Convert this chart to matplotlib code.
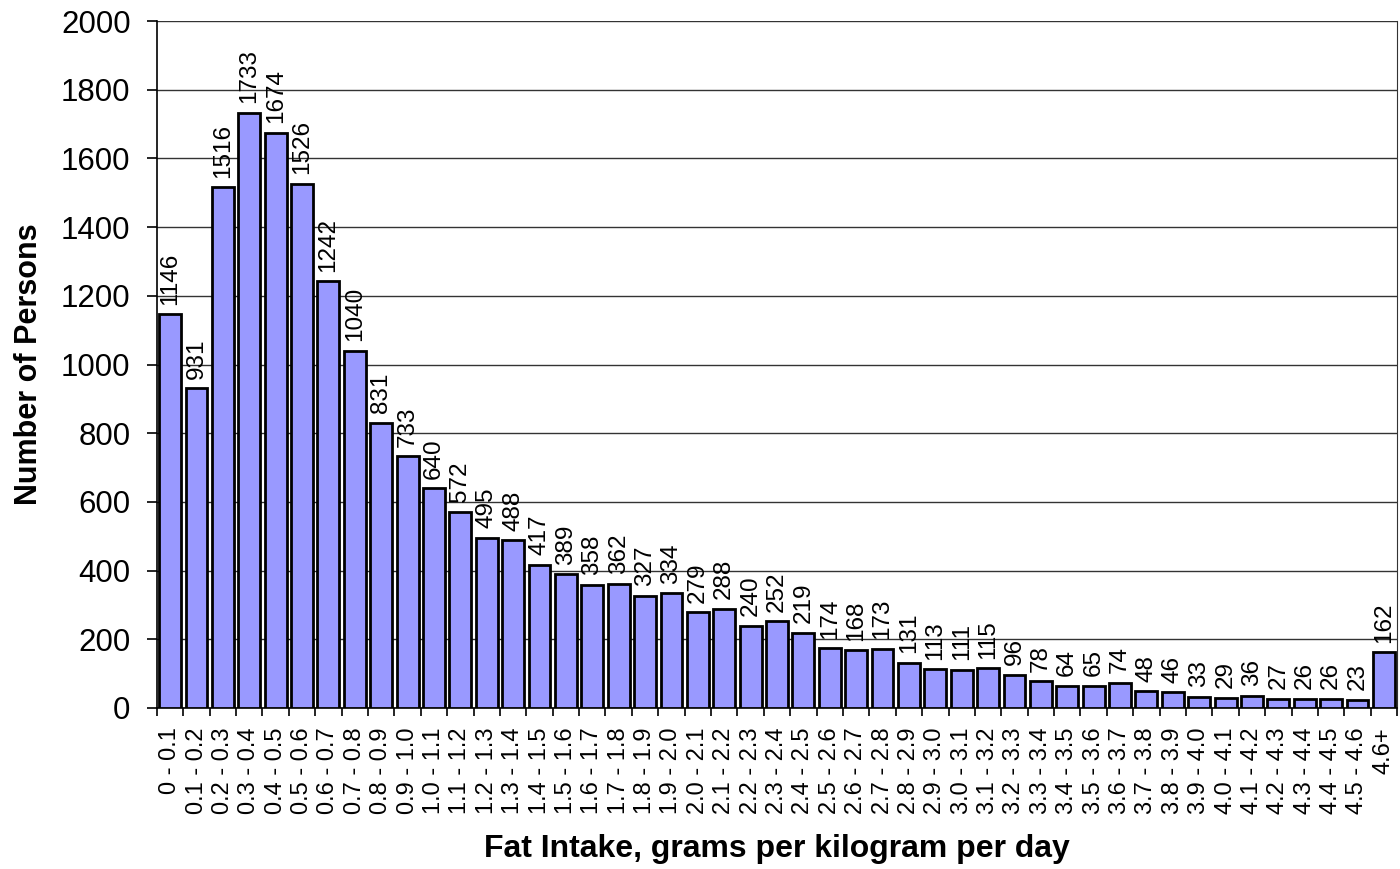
import matplotlib
matplotlib.use("Agg")
import matplotlib.pyplot as plt
import numpy as np

plt.rcParams['font.family'] = ['Liberation Sans', 'DejaVu Sans']

lows = [round(i * 0.1, 1) for i in range(46)]
categories = [("0" if i == 0 else f"{lows[i]:.1f}") + " - " + f"{lows[i] + 0.1:.1f}" for i in range(46)] + ["4.6+"]
counts = [1146, 931, 1516, 1733, 1674, 1526, 1242, 1040, 831, 733, 640, 572, 495, 488,
          417, 389, 358, 362, 327, 334, 279, 288, 240, 252, 219, 174, 168, 173, 131, 113,
          111, 115, 96, 78, 64, 65, 74, 48, 46, 33, 29, 36, 27, 26, 26, 23, 162]
yticks = [0, 200, 400, 600, 800, 1000, 1200, 1400, 1600, 1800, 2000]

fig = plt.figure(figsize=(14, 8.69), dpi=100)
ax = fig.add_axes([0.1121, 0.1853, 0.8858, 0.7905])

x = np.arange(len(counts))
ax.bar(x, counts, width=0.83, color='#9999FF', edgecolor='black', linewidth=2, zorder=3)
for xi, v in zip(x, counts):
    ax.text(xi, v + 28, str(v), rotation=90, ha='center', va='bottom', fontsize=17.5, zorder=4)

ax.set_xlim(-0.5, len(counts) - 0.5)
ax.set_ylim(0, 2000)
ax.set_yticks(yticks)
ax.tick_params(axis='y', labelsize=22.5, length=7, width=1.2, direction='out', pad=12)
ax.yaxis.grid(True, color='#333333', linewidth=1, zorder=0)
ax.set_xticks(x)
ax.set_xticklabels(categories, rotation=90, fontsize=17)
ax.tick_params(axis='x', length=0, pad=14)
# tick marks between categories
ax.set_xticks(np.arange(-0.5, len(counts)), minor=True)
ax.tick_params(axis='x', which='minor', length=6, width=1.2, direction='out')

ax.spines['top'].set_visible(False)
ax.spines['right'].set_color('#333333')
ax.spines['left'].set_linewidth(1.2)
ax.spines['bottom'].set_linewidth(1.2)

ax.set_ylabel('Number of Persons', fontsize=22, fontweight='bold', labelpad=12)
ax.set_xlabel('Fat Intake, grams per kilogram per day', fontsize=23, fontweight='bold', labelpad=14)

fig.savefig('out.png', dpi=100)
